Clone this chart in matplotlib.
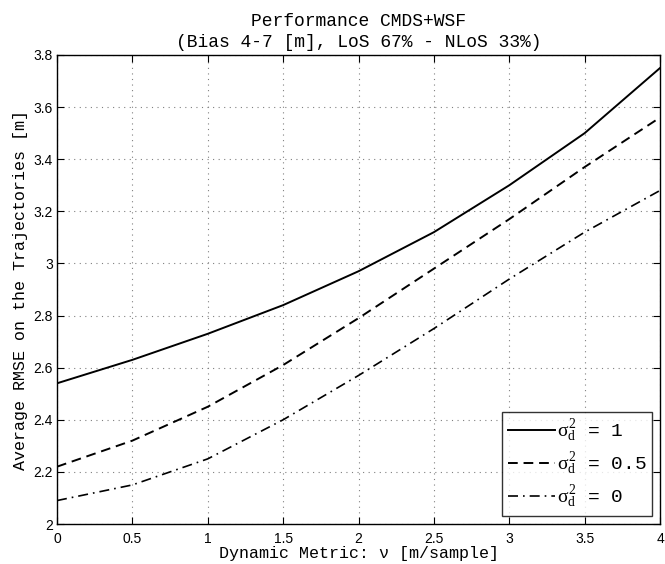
import matplotlib
matplotlib.use("Agg")
import matplotlib.pyplot as plt

# 데이터
v = [0, 0.5, 1, 1.5, 2, 2.5, 3, 3.5, 4]
rmse_s1 = [2.54, 2.63, 2.73, 2.84, 2.97, 3.12, 3.30, 3.50, 3.75]
rmse_s05 = [2.22, 2.32, 2.45, 2.61, 2.79, 2.98, 3.17, 3.37, 3.56]
rmse_s0 = [2.09, 2.15, 2.25, 2.40, 2.57, 2.75, 2.94, 3.12, 3.28]
labels = [r"$\sigma_\mathrm{d}^2$ = 1", r"$\sigma_\mathrm{d}^2$ = 0.5", r"$\sigma_\mathrm{d}^2$ = 0"]
xticks = [0, 0.5, 1, 1.5, 2, 2.5, 3, 3.5, 4]
xtick_labels = ["0", "0.5", "1", "1.5", "2", "2.5", "3", "3.5", "4"]
yticks = [2, 2.2, 2.4, 2.6, 2.8, 3, 3.2, 3.4, 3.6, 3.8]
ytick_labels = ["2", "2.2", "2.4", "2.6", "2.8", "3", "3.2", "3.4", "3.6", "3.8"]

plt.rcParams["mathtext.fontset"] = "custom"
plt.rcParams["mathtext.rm"] = "Liberation Serif"
plt.rcParams["mathtext.it"] = "Liberation Serif"

fig = plt.figure(figsize=(6.65, 5.64), dpi=100)
ax = fig.add_axes([0.0857, 0.0709, 0.9068, 0.8316])

ax.plot(v, rmse_s1, color="black", linestyle="-", linewidth=1.4, label=labels[0])
ax.plot(v, rmse_s05, color="black", linestyle=(0, (5, 3)), linewidth=1.4, label=labels[1])
ax.plot(v, rmse_s0, color="black", linestyle=(0, (6, 3, 1, 3)), linewidth=1.2, label=labels[2])

ax.set_xlim(0, 4)
ax.set_ylim(2, 3.8)
ax.set_xticks(xticks)
ax.set_xticklabels(xtick_labels, family="Liberation Sans", fontsize=10)
ax.set_yticks(yticks)
ax.set_yticklabels(ytick_labels, family="Liberation Sans", fontsize=10)
ax.tick_params(direction="in", length=5, top=True, right=True)
ax.tick_params(axis="x", pad=6)
ax.tick_params(axis="y", pad=3)
for s in ax.spines.values():
    s.set_linewidth(1.0)
ax.grid(True, linestyle=(0, (1, 4)), color="gray", linewidth=0.8)

ax.set_xlabel("Dynamic Metric: ν [m/sample]", family="Liberation Mono", fontsize=12, labelpad=0)
ax.set_ylabel("Average RMSE on the Trajectories [m]", family="Liberation Mono", fontsize=12, labelpad=4)
ax.set_title("Performance CMDS+WSF\n(Bias 4-7 [m], LoS 67% - NLoS 33%)",
             family="Liberation Mono", fontsize=13, linespacing=1.25, pad=6)

leg = ax.legend(loc="lower right", prop={"family": "Liberation Mono", "size": 14},
                frameon=True, fancybox=False, edgecolor="black", handlelength=2.4,
                handletextpad=0.1, borderaxespad=0.4, labelspacing=0.35,
                borderpad=0.3)
leg.get_frame().set_linewidth(1.0)

plt.savefig("out.png", dpi=100)
